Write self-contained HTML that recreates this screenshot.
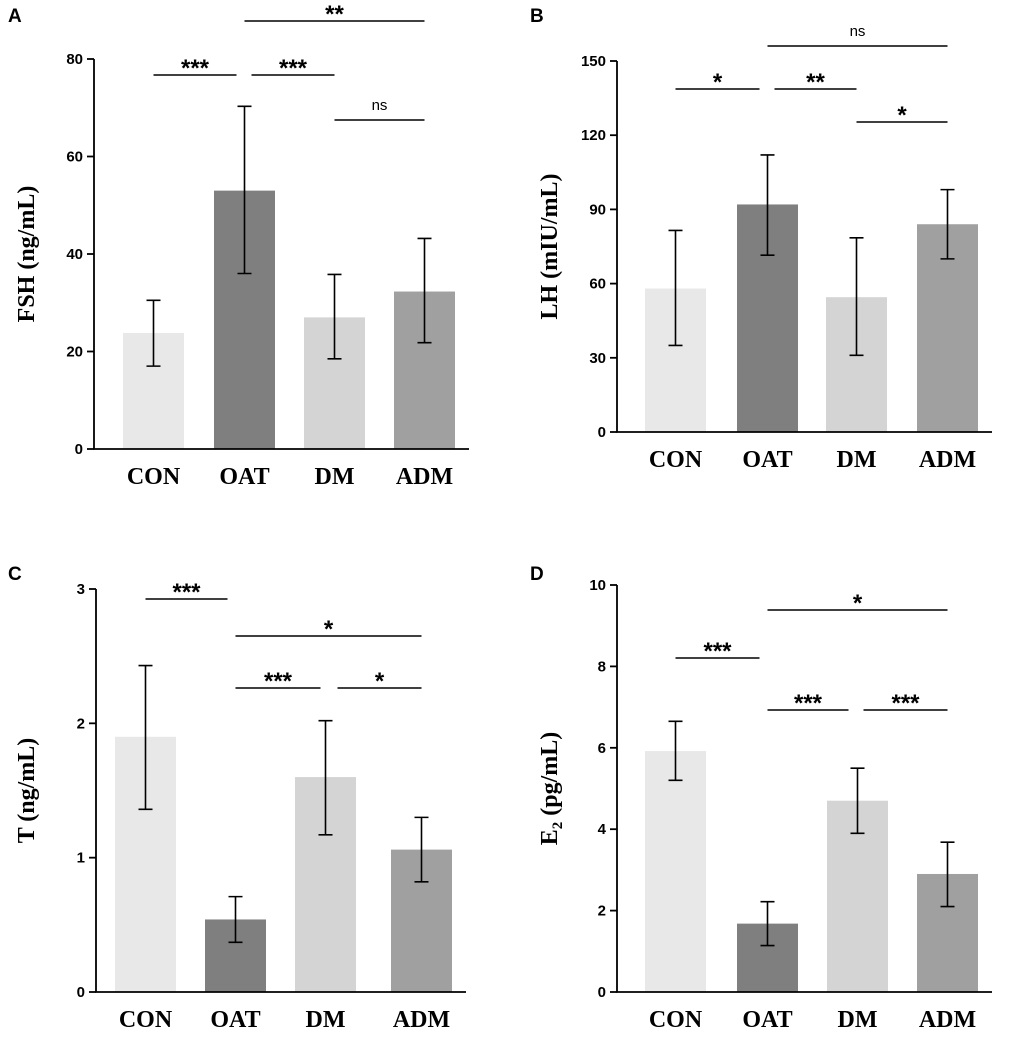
<!DOCTYPE html>
<html><head><meta charset="utf-8"><style>
body{margin:0;background:#fff}
</style></head><body>
<svg id="c" width="1020" height="1035" viewBox="0 0 1020 1035" style="font-family:'Liberation Sans',Arial,sans-serif">
</svg>
<script>
const categories=["CON","OAT","DM","ADM"];
const fshValues=[23.8,53,27,32.3];
const fshLow=[17,36,18.5,21.8];
const fshHigh=[30.5,70.3,35.8,43.2];
const lhValues=[58,92,54.5,84];
const lhLow=[35,71.5,31,70];
const lhHigh=[81.5,112,78.5,98];
const tValues=[1.9,0.54,1.6,1.06];
const tLow=[1.36,0.37,1.17,0.82];
const tHigh=[2.43,0.71,2.02,1.30];
const e2Values=[5.92,1.68,4.7,2.9];
const e2Low=[5.2,1.14,3.9,2.1];
const e2High=[6.65,2.22,5.5,3.68];
const fshTicks=[0,20,40,60,80];
const lhTicks=[0,30,60,90,120,150];
const tTicks=[0,1,2,3];
const e2Ticks=[0,2,4,6,8,10];
const colors=["#e8e8e8","#7f7f7f","#d4d4d4","#a0a0a0"];
const svg=document.getElementById('c');
const NS="http://www.w3.org/2000/svg";
const SERIF="font-family:'Liberation Serif',serif";
function mk(tag,attrs,parent){const e=document.createElementNS(NS,tag);for(const k in attrs)e.setAttribute(k,attrs[k]);(parent||svg).appendChild(e);return e;}
// bracket: [from, to, y, label, leftInset, rightInset]
const panels=[
 {letter:"A",lx:8,ly:22,ax:94,y0:449,y1:59,max:80,bars:[123,214,304,394],bw:61,v:fshValues,lo:fshLow,hi:fshHigh,ticks:fshTicks,label:"FSH (ng/mL)",lblx:22,
  br:[[0,1,75,"***",0,8],[1,2,75,"***",7,0],[1,3,21,"**",0,0],[2,3,120,"ns",0,0]]},
 {letter:"B",lx:530,ly:22,ax:617,y0:432,y1:61,max:150,bars:[645,737,826,917],bw:61,v:lhValues,lo:lhLow,hi:lhHigh,ticks:lhTicks,label:"LH (mIU/mL)",lblx:545,
  br:[[0,1,89,"*",0,8],[1,2,89,"**",7,0],[1,3,46,"ns",0,0],[2,3,122,"*",0,0]]},
 {letter:"C",lx:8,ly:580,ax:96,y0:992,y1:589,max:3,bars:[115,205,295,391],bw:61,v:tValues,lo:tLow,hi:tHigh,ticks:tTicks,label:"T (ng/mL)",lblx:22,
  br:[[0,1,599,"***",0,8],[1,3,636,"*",0,0],[1,2,688,"***",0,5],[2,3,688,"*",12,0]]},
 {letter:"D",lx:530,ly:580,ax:617,y0:992,y1:585,max:10,bars:[645,737,827,917],bw:61,v:e2Values,lo:e2Low,hi:e2High,ticks:e2Ticks,label:"E2",lblx:545,
  br:[[0,1,658,"***",0,8],[1,3,610,"*",0,0],[1,2,710,"***",0,9],[2,3,710,"***",6,0]]}
];
panels.forEach((p,pi)=>{
 const g=mk('g',{});
 
 
 const Y=v=>p.y0-(v/p.max)*(p.y0-p.y1);
 const L=mk('text',{x:p.lx,y:p.ly,'font-size':19,'font-weight':'bold'},g);L.textContent=p.letter;
 
 categories.forEach((c,i)=>{
  const x=p.bars[i],cx=x+p.bw/2;
  const r=mk('rect',{x:x,y:Y(p.v[i]),width:p.bw,height:p.y0-Y(p.v[i]),fill:colors[i]},g);
  
  const e=mk('path',{d:`M${cx},${Y(p.lo[i])}V${Y(p.hi[i])}M${cx-7},${Y(p.lo[i])}H${cx+7}M${cx-7},${Y(p.hi[i])}H${cx+7}`,stroke:'#000','stroke-width':1.6,fill:'none'},g);
  
  const t=mk('text',{x:cx,y:p.y0+35,'text-anchor':'middle','font-size':24,'font-weight':'bold',style:SERIF},g);t.textContent=c;
  
 });
 const a=mk('path',{d:`M${p.ax},${p.y1}V${p.y0}H${p.bars[3]+p.bw+14}`,stroke:'#000','stroke-width':1.8,fill:'none'},g);
 
 p.ticks.forEach(tv=>{
  const y=Y(tv);
  const tk=mk('line',{x1:p.ax-7,x2:p.ax,y1:y,y2:y,stroke:'#000','stroke-width':1.8},g);
  
  const tl=mk('text',{x:p.ax-11,y:y+5,'text-anchor':'end','font-size':15,'font-weight':'bold'},g);tl.textContent=tv;
  
 });
 const ym=(p.y0+p.y1)/2;
 const yl=mk('text',{x:p.lblx+12,y:ym,transform:`rotate(-90 ${p.lblx+12} ${ym})`,'text-anchor':'middle','font-size':24,'font-weight':'bold',style:SERIF},g);
 
 if(p.label==="E2"){yl.textContent="E";const s=mk('tspan',{'font-size':15,dy:5},yl);s.textContent="2";const s2=mk('tspan',{dy:-5},yl);s2.textContent=" (pg/mL)";}
 else yl.textContent=p.label;
 const cen=p.bars.map(b=>b+p.bw/2);
 p.br.forEach(b=>{
  const x1=cen[b[0]]+b[4],x2=cen[b[1]]-b[5];
  const ln=mk('line',{x1:x1,x2:x2,y1:b[2],y2:b[2],stroke:'#000','stroke-width':1.6},g);
  
  const ns=b[3]==="ns";
  const st=mk('text',{x:(x1+x2)/2,y:ns?b[2]-10:b[2]+1,'text-anchor':'middle','font-size':ns?15:24,'font-weight':ns?'normal':'bold'},g);
  st.textContent=b[3];
  
 });
});
</script>
</body></html>
